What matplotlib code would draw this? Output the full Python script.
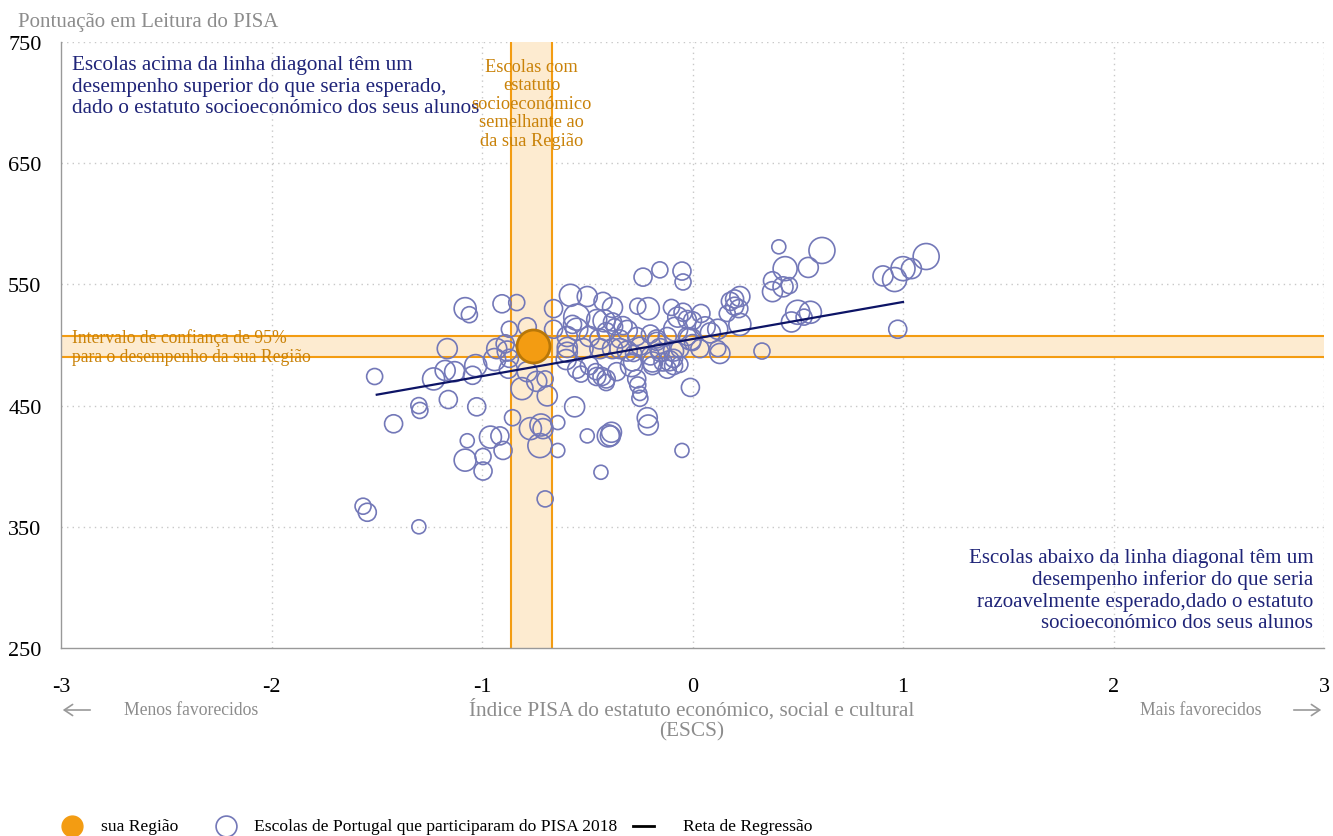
import matplotlib
matplotlib.use("Agg")
import matplotlib.pyplot as plt
import numpy as np

# ---------------- data ----------------
# schools: ESCS index, reading score, relative school size
escs = [-1.565, -1.545, -1.30, -1.51, -1.42, -1.30, -1.295, -1.165, -1.16, -1.23,
        -1.13, -1.08, -1.06, -1.07, -1.08, -0.995, -0.995, -1.025, -1.03, -1.045,
        -0.96, -0.915, -0.90, -0.855, -0.905, -0.835, -0.87, -0.93, -0.94, -0.88,
        -0.785, -0.81, -0.77, -0.725, -0.71, -0.69, -0.70, -0.70, -0.64, -0.64,
        -0.66, -0.58, -0.56, -0.55, -0.55, -0.595, -0.60, -0.53, -0.50, -0.435,
        -0.39, -0.385, -0.235, -0.155, -0.05, -0.045, -0.215, -0.21, -0.25, -0.26,
        -0.05, -0.01, -0.425, -0.38, -0.42, -0.44, -0.46, -0.43, -0.41, -0.345,
        -0.37, -0.31, -0.26, -0.21, -0.28, -0.29, -0.17, -0.155, -0.19, -0.10,
        -0.07, -0.08, 0.0, 0.04, -0.01, -0.09, -0.11, -0.06, 0.06, 0.12,
        0.13, 0.12, 0.165, 0.18, 0.20, 0.225, 0.22, 0.225, 0.33, 0.41,
        0.38, 0.38, 0.43, 0.44, 0.46, 0.55, 0.615, 0.47, 0.50, 0.53,
        0.56, 0.905, 0.96, 1.00, 1.04, 1.11, 0.975, -0.50, -0.045, -0.455,
        -0.38, -0.33, -0.66, -0.595, -0.57, -0.49, -0.41, -0.345, -0.265, -0.20,
        -0.17, -0.12, -0.025, -0.025, 0.0, -0.595, -0.52, -0.44, -0.38, -0.31,
        -0.25, -0.20, -0.155, -0.09, -0.06, 0.035, -0.55, -0.49, -0.455, -0.41,
        -0.36, -0.285, -0.265, -0.19, -0.14, -0.12, -0.09, -0.25, -0.72, -0.89,
        -0.87, -0.875, -1.175, -0.785, -0.74, 0.20, 0.085, -0.40]
score = [367, 362, 350, 474, 435, 450, 446, 497, 455, 472,
         478, 530, 525, 421, 405, 396, 408, 449, 483, 475,
         424, 425, 413, 440, 534, 535, 513, 497, 488, 495,
         515, 464, 431, 417, 431, 458, 472, 373, 413, 436,
         530, 541, 449, 523, 513, 498, 488, 476, 425, 395,
         425, 428, 556, 562, 561, 552, 440, 434, 460, 467,
         413, 465, 536, 531, 520, 505, 478, 474, 469, 497,
         515, 512, 532, 530, 493, 483, 505, 497, 486, 531,
         523, 513, 520, 526, 505, 495, 487, 484, 515, 513,
         493, 497, 526, 536, 538, 540, 530, 517, 495, 581,
         553, 544, 548, 563, 549, 564, 578, 519, 527, 523,
         527, 557, 554, 563, 563, 573, 513, 540, 527, 521,
         519, 516, 513, 507, 517, 507, 511, 505, 507, 509,
         503, 507, 507, 521, 502, 494, 497, 497, 497, 495,
         499, 491, 494, 489, 497, 497, 480, 483, 474, 472,
         478, 486, 472, 483, 486, 480, 483, 456, 434, 501,
         489, 480, 479, 478, 470, 532, 510, 425]
school_size = [8, 9, 7, 8, 9, 8, 8, 10, 9, 11,
               10, 11, 8, 7, 11, 9, 8, 9, 11, 9,
               11, 9, 9, 8, 9, 8, 8, 10, 11, 10,
               9, 11, 11, 12, 10, 10, 8, 8, 7, 7,
               9, 11, 10, 13, 11, 10, 10, 8, 7, 7,
               10, 10, 9, 8, 9, 8, 10, 10, 7, 8,
               7, 9, 9, 10, 11, 10, 8, 9, 8, 10,
               8, 10, 8, 11, 8, 11, 9, 10, 10, 8,
               10, 12, 9, 9, 11, 10, 10, 8, 10, 10,
               10, 8, 8, 9, 9, 10, 9, 11, 8, 7,
               9, 10, 10, 12, 8, 10, 13, 10, 12, 8,
               11, 10, 12, 12, 10, 13, 9, 10, 9, 10,
               9, 9, 9, 10, 9, 10, 9, 9, 9, 9,
               9, 9, 9, 9, 8, 10, 10, 10, 10, 10,
               9, 9, 9, 9, 9, 9, 9, 9, 9, 9,
               9, 9, 9, 9, 9, 9, 9, 8, 11, 9,
               9, 9, 10, 10, 10, 9, 10, 11]

region_escs = -0.76
region_score = 499

escs_band = (-0.862, -0.667)      # ESCS interval of the region
score_band = (490, 507.5)         # 95% CI of region performance

reg_x = [-1.5, 1.0]
reg_y = [459, 535.5]

xticks = [-3, -2, -1, 0, 1, 2, 3]
yticks = [250, 350, 450, 550, 650, 750]

# ---------------- style ----------------
FONT = "Liberation Serif"
plt.rcParams['font.family'] = [FONT, 'DejaVu Serif']
NAVY = "#1f2478"
ORANGE = "#f39c12"
ORANGE_TXT = "#c98209"
CIRCLE = "#7378b8"
GRAY = "#8c8c8c"

fig = plt.figure(figsize=(13.33, 8.37), dpi=100)
ax = fig.add_axes([61/1333, 1-649/837, (1324-61)/1333, (649-43)/837])

ax.set_xlim(-3, 3)
ax.set_ylim(250, 750)

# bands
ax.axvspan(*escs_band, color="#fdebd0", zorder=1, lw=0)
ax.axhspan(*score_band, color="#fdebd0", zorder=1, lw=0)
for v in escs_band:
    ax.axvline(v, color=ORANGE, lw=1.5, zorder=2)
for v in score_band:
    ax.axhline(v, color=ORANGE, lw=1.5, zorder=2)

# grid
for t in xticks[1:]:
    ax.axvline(t, color="#c8c8c8", lw=1, ls=(0, (1, 3)), zorder=0)
for t in yticks[1:]:
    ax.axhline(t, color="#c8c8c8", lw=1, ls=(0, (1, 3)), zorder=0)

# schools
sizes = (np.array(school_size) * 1.44) ** 2
ax.scatter(escs, score, s=sizes, facecolors="none", edgecolors=CIRCLE,
           linewidths=1.2, zorder=3)

# regression line
ax.plot(reg_x, reg_y, color="#0d1466", lw=1.6, zorder=4)

# region
ax.scatter([region_escs], [region_score], s=(16.5 * 1.44) ** 2,
           facecolor=ORANGE, edgecolor="#b87708", linewidths=2, zorder=5)

# axes styling
for sp in ["top", "right"]:
    ax.spines[sp].set_visible(False)
for sp in ["left", "bottom"]:
    ax.spines[sp].set_color("#999999")
    ax.spines[sp].set_linewidth(1)
ax.set_xticks(xticks)
ax.set_yticks(yticks)
ax.tick_params(axis="both", length=0, labelsize=16, colors="black")
ax.tick_params(axis="x", pad=21)
ax.tick_params(axis="y", pad=14)
ax.set_xticklabels([str(t) for t in xticks])

# texts
def ft(x, y, s, **kw):
    fig.text(x/1333, 1-y/837, s, **kw)

ft(18, 22, "Pontuação em Leitura do PISA", color=GRAY, fontsize=15,
   va="center", ha="left")

ax.text(-2.95, 739, "Escolas acima da linha diagonal têm um\n"
        "desempenho superior do que seria esperado,\n"
        "dado o estatuto socioeconómico dos seus alunos",
        color=NAVY, fontsize=15.2, va="top", ha="left", linespacing=1.16, zorder=6)

ax.text(-0.765, 737, "Escolas com\nestatuto\nsocioeconómico\nsemelhante ao\nda sua Região",
        color=ORANGE_TXT, fontsize=13.2, va="top", ha="center", linespacing=1.12, zorder=6)

ax.text(-2.95, 499, "Intervalo de confiança de 95%\npara o desempenho da sua Região",
        color=ORANGE_TXT, fontsize=12.7, va="center", ha="left", linespacing=1.15, zorder=6)

ax.text(2.95, 263, "Escolas abaixo da linha diagonal têm um\n"
        "desempenho inferior do que seria\n"
        "razoavelmente esperado,dado o estatuto\n"
        "socioeconómico dos seus alunos",
        color=NAVY, fontsize=15.1, va="bottom", ha="right", linespacing=1.18, zorder=6)

ft(692, 699, "Índice PISA do estatuto económico, social e cultural\n(ESCS)",
   color=GRAY, fontsize=15.3, ha="center", va="top", linespacing=1.12)
ft(124, 711, "Menos favorecidos", color=GRAY, fontsize=12.7, ha="left", va="center")
ft(1261, 711, "Mais favorecidos", color=GRAY, fontsize=12.7, ha="right", va="center")

fig.add_artist(matplotlib.patches.FancyArrowPatch(
    (93/1333, 1-711/837), (60/1333, 1-711/837), transform=fig.transFigure,
    arrowstyle="->,head_length=6,head_width=4", color="#999999", lw=1.2))
fig.add_artist(matplotlib.patches.FancyArrowPatch(
    (1291/1333, 1-711/837), (1324/1333, 1-711/837), transform=fig.transFigure,
    arrowstyle="->,head_length=6,head_width=4", color="#999999", lw=1.2))

# legend
ly = 1-827/837
fig.add_artist(matplotlib.lines.Line2D([72/1333], [ly], marker="o", markersize=15,
               markerfacecolor=ORANGE, markeredgecolor=ORANGE, ls="none"))
ft(101, 827, "sua Região", fontsize=12.6, va="center", ha="left")
fig.add_artist(matplotlib.lines.Line2D([226/1333], [ly], marker="o", markersize=15,
               markerfacecolor="none", markeredgecolor=CIRCLE, markeredgewidth=1.2, ls="none"))
ft(254, 827, "Escolas de Portugal que participaram do PISA 2018", fontsize=12.6,
   va="center", ha="left")
fig.add_artist(matplotlib.lines.Line2D([633/1333, 654/1333], [ly, ly], color="black", lw=2))
ft(683, 827, "Reta de Regressão", fontsize=12.6, va="center", ha="left")

fig.savefig("out.png", dpi=100)
